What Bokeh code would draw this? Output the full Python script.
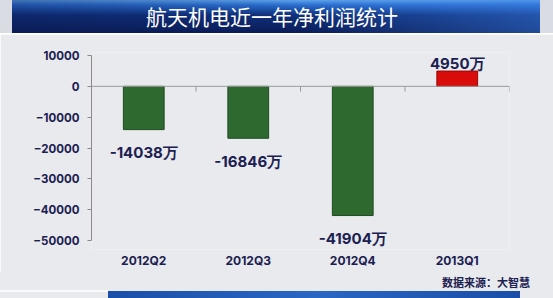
from bokeh.plotting import figure
from bokeh.models import (FactorRange, Range1d, FixedTicker, ColumnDataSource, LabelSet,
                          Span, Div)
from bokeh.core.properties import value
from bokeh.layouts import column
from bokeh.transform import dodge
from bokeh.embed import file_html
from bokeh.resources import INLINE

quarters = ["2012Q2", "2012Q3", "2012Q4", "2013Q1"]
profit = [-14038, -16846, -41904, 4950]
y_ticks = [10000, 0, -10000, -20000, -30000, -40000, -50000]
title_text = "航天机电近一年净利润统计"
source_text = "数据来源：大智慧"

NAVY = "#1b2050"
BG = "#e8eaed"
NUM_FONT = "Inter"
AX_FONT = "Inter"
W = 553
TOP_H, FIG_H, BOT_H = 34, 238, 26

# pixel design of the value axis (10000 .. -50000 spans 185 px)
Y_MIN, Y_MAX = -50000, 10000
px_per_unit = 185 / (Y_MAX - Y_MIN)
pad_top_px, pad_bot_px = 3, 9

src = ColumnDataSource(dict(
    q=quarters,
    v=profit,
    txt=[f"{v}万" for v in profit],
    color=["#2e6a2f" if v < 0 else "#d90c0c" for v in profit],
    edge=["#1f4a20" if v < 0 else "#9a0606" for v in profit],
    off=[-23 if v < 0 else 8 for v in profit],
))

p = figure(width=W, height=FIG_H, x_range=FactorRange(*quarters, range_padding=0),
           y_range=Range1d(Y_MIN - pad_bot_px / px_per_unit, Y_MAX + pad_top_px / px_per_unit),
           output_backend="svg", toolbar_location=None,
           min_border_left=91, min_border_right=W - 509,
           min_border_top=55 - TOP_H - pad_top_px,
           min_border_bottom=FIG_H - (240 - TOP_H + pad_bot_px), margin=0)
p.background_fill_color = BG
p.border_fill_color = BG
p.outline_line_color = None
p.xgrid.grid_line_color = None
p.ygrid.grid_line_color = None

p.vbar(x="q", top="v", bottom=0, width=0.39, source=src, fill_color="color",
       line_color="edge", line_width=1)

p.add_layout(Span(location=0, dimension="width", line_color="#9a9a9a", line_width=1))
p.segment(x0=dodge("q", 0.5, range=p.x_range), x1=dodge("q", 0.5, range=p.x_range),
          y0=0, y1=-1700, source=src, line_color="#9a9a9a", line_width=1)

p.add_layout(LabelSet(x="q", y="v", text="txt", y_offset="off", source=src,
                      text_align="center", text_baseline="middle",
                      text_font=value(NUM_FONT), text_font_style="bold",
                      text_font_size="15px", text_color=NAVY))

p.yaxis.ticker = FixedTicker(ticks=y_ticks)
p.yaxis.bounds = (Y_MIN, Y_MAX)
p.yaxis.minor_tick_line_color = None
p.yaxis.major_tick_in = 0
p.yaxis.major_tick_out = 4
p.yaxis.axis_line_color = "#8a8a8a"
p.yaxis.major_tick_line_color = "#8a8a8a"
p.yaxis.major_label_text_font = AX_FONT
p.yaxis.major_label_text_font_style = "bold"
p.yaxis.major_label_text_font_size = "11.5px"
p.yaxis.major_label_text_color = NAVY
p.yaxis.major_label_standoff = 8

p.xaxis.axis_line_color = None
p.xaxis.major_tick_line_color = None
p.xaxis.major_tick_out = 0
p.xaxis.major_tick_in = 0
p.xaxis.major_label_standoff = 3
p.xaxis.major_label_text_font = AX_FONT
p.xaxis.major_label_text_font_style = "bold"
p.xaxis.major_label_text_font_size = "12px"
p.xaxis.major_label_text_color = NAVY

top = Div(text=title_text, width=W, height=TOP_H, margin=0, styles={
    "background": ("linear-gradient(90deg, rgba(10,25,80,0.35) 0%, rgba(10,25,80,0) 55%, "
                   "rgba(60,130,230,0.45) 100%) 12px 0 / 528px 33px no-repeat, "
                   "linear-gradient(180deg, #5fa3ea 0px, #2a6fd0 5px, #10307c 15px, #0a1d58 33px) "
                   "12px 0 / 528px 33px no-repeat, "
                   "linear-gradient(#ffffff, #ffffff) 0 33px / 553px 1px no-repeat, #d9dde3"),
    "color": "white", "font-family": "'Noto Sans CJK SC'", "font-size": "21px",
    "text-align": "center", "line-height": "32px", "padding-right": "9px",
    "box-sizing": "border-box", "overflow": "hidden"})

bottom = Div(text=source_text, width=W, height=BOT_H, margin=0, styles={
    "background": ("linear-gradient(90deg, #1a4ea8, #2a66c4 50%, #1a4ea8) 108px 19px / 412px 7px no-repeat, "
                   "linear-gradient(#fafafa, #fafafa) 0 18px / 108px 2px no-repeat, " + BG),
    "color": NAVY, "font-family": "'Noto Sans CJK SC'", "font-size": "11px",
    "font-weight": "bold", "text-align": "right", "line-height": "20px",
    "padding-right": "23px", "box-sizing": "border-box", "overflow": "hidden"})

layout = column(top, p, bottom, spacing=0, margin=0)

open("out.html", "w", encoding="utf-8").write(file_html(layout, INLINE))
